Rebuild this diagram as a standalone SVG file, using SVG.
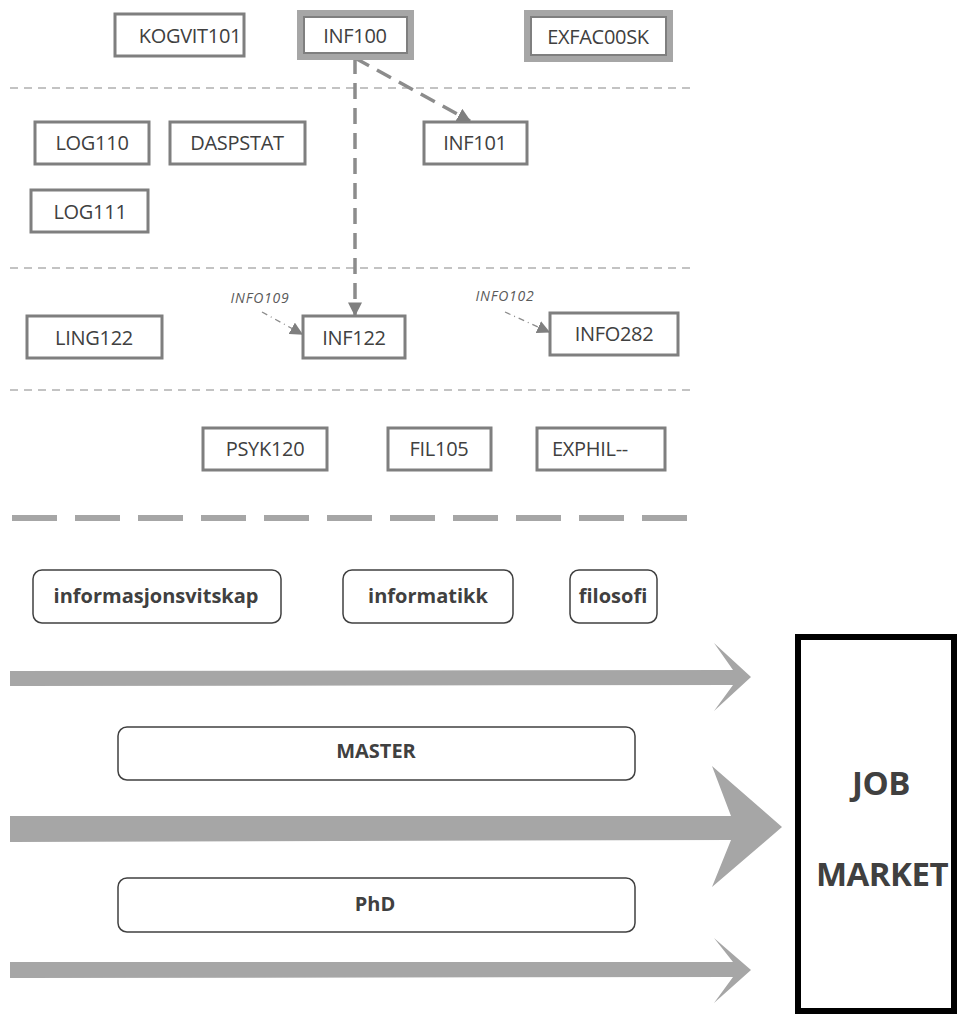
<svg xmlns="http://www.w3.org/2000/svg" width="961" height="1015" viewBox="0 0 961 1015">
<style>
.c rect{fill:#fff;stroke:#7f7f7f;stroke-width:3}
.c text,.d text{font-family:"Open Sans",sans-serif;font-size:20px;letter-spacing:-0.3px;fill:#404040;text-anchor:middle;dominant-baseline:central}
.dbl .o{fill:#fff;stroke:#a6a6a6;stroke-width:6}
.dbl .i{fill:#fff;stroke:#7f7f7f;stroke-width:2}
.sep{stroke:#b0b0b0;stroke-width:1.5;stroke-dasharray:8 6}
.d rect{fill:#fff;stroke:#404040;stroke-width:1.5}
.d text{font-weight:bold;font-size:20px;letter-spacing:0;fill:#404040}
.big{fill:#a6a6a6}
.lbl{font-family:"Open Sans",sans-serif;font-size:14px;letter-spacing:0.8px;font-style:italic;fill:#595959;text-anchor:middle}
.jm{font-family:"Open Sans",sans-serif;font-weight:bold;font-size:33px;letter-spacing:-0.5px;fill:#404040;text-anchor:middle;dominant-baseline:central}
</style>
<defs>
<marker id="ah" viewBox="0 0 10 10" refX="9" refY="5" markerWidth="4" markerHeight="4" orient="auto" markerUnits="strokeWidth"><path d="M0,0L10,5L0,10z" fill="#7f7f7f"/></marker>
<marker id="ahs" viewBox="0 0 10 10" refX="9" refY="5" markerWidth="10" markerHeight="10" orient="auto" markerUnits="strokeWidth"><path d="M0,0L10,5L0,10z" fill="#7f7f7f"/></marker>
</defs>
<rect width="961" height="1015" fill="#fff"/>
<g id="separators">
<line class="sep" x1="10" y1="88" x2="692" y2="88"/>
<line class="sep" x1="10" y1="268" x2="692" y2="268"/>
<line class="sep" x1="10" y1="390" x2="692" y2="390"/>
<line x1="12" y1="518" x2="695" y2="518" stroke="#a6a6a6" stroke-width="6" stroke-dasharray="45 18"/>
</g>
<g id="connectors" fill="none" stroke="#8c8c8c">
<line x1="355" y1="58" x2="470" y2="121" stroke-width="3.5" stroke-dasharray="16 9" marker-end="url(#ah)"/>
<line x1="355" y1="58" x2="355" y2="315" stroke-width="3.5" stroke-dasharray="16 9" marker-end="url(#ah)"/>
<line x1="262" y1="312" x2="302" y2="334" stroke-width="1.3" stroke-dasharray="6 4 1 4" marker-end="url(#ahs)"/>
<line x1="505" y1="312" x2="549" y2="332" stroke-width="1.3" stroke-dasharray="6 4 1 4" marker-end="url(#ahs)"/>
</g>
<g id="labels">
<text class="lbl" x="260" y="303">INFO109</text>
<text class="lbl" x="505" y="301">INFO102</text>
</g>
<g id="KOGVIT101" class="c"><rect x="115" y="14" width="129" height="42"/><text x="190" y="35">KOGVIT101</text></g>
<g id="INF100" class="c dbl"><rect class="o" x="300" y="13" width="111" height="44"/><rect class="i" x="304" y="17" width="103" height="36"/><text x="355" y="35">INF100</text></g>
<g id="EXFAC00SK" class="c dbl"><rect class="o" x="527" y="13" width="143" height="46"/><rect class="i" x="531" y="17" width="135" height="38"/><text x="598" y="36">EXFAC00SK</text></g>
<g id="LOG110" class="c"><rect x="35" y="122" width="114" height="42"/><text x="92" y="142">LOG110</text></g>
<g id="DASPSTAT" class="c"><rect x="170" y="122" width="135" height="42"/><text x="237" y="142">DASPSTAT</text></g>
<g id="INF101" class="c"><rect x="424" y="122" width="103" height="42"/><text x="475" y="142">INF101</text></g>
<g id="LOG111" class="c"><rect x="31" y="190" width="117" height="42"/><text x="90" y="211">LOG111</text></g>
<g id="LING122" class="c"><rect x="27" y="316" width="135" height="42"/><text x="94" y="337">LING122</text></g>
<g id="INF122" class="c"><rect x="303" y="316" width="102" height="42"/><text x="354" y="337">INF122</text></g>
<g id="INFO282" class="c"><rect x="550" y="313" width="128" height="42"/><text x="614" y="333">INFO282</text></g>
<g id="PSYK120" class="c"><rect x="203" y="428" width="124" height="42"/><text x="265" y="448">PSYK120</text></g>
<g id="FIL105" class="c"><rect x="388" y="428" width="103" height="42"/><text x="439" y="448">FIL105</text></g>
<g id="EXPHIL" class="c"><rect x="537" y="428" width="128" height="42"/><text x="590" y="448">EXPHIL--</text></g>
<g id="informasjonsvitskap" class="d"><rect x="33" y="570" width="248" height="53" rx="9"/><text x="156" y="595">informasjonsvitskap</text></g>
<g id="informatikk" class="d"><rect x="343" y="570" width="170" height="53" rx="9"/><text x="428" y="595">informatikk</text></g>
<g id="filosofi" class="d"><rect x="570" y="570" width="87" height="53" rx="9"/><text x="613" y="595">filosofi</text></g>
<g id="arrows">
<path class="big" d="M10,671 L733,670 L714,643 L751,677 L714,711 L733,685 L10,686 Z"/>
<path class="big" d="M10,816 L731,816 L712,766 L782,827 L712,887 L731,840 L10,842 Z"/>
<path class="big" d="M10,962 L733,962 L714,938 L751,970 L714,1003 L733,977 L10,978 Z"/>
</g>
<g id="MASTER" class="d"><rect x="118" y="727" width="517" height="53" rx="9"/><text x="376" y="750">MASTER</text></g>
<g id="PhD" class="d"><rect x="118" y="878" width="517" height="54" rx="9"/><text x="375" y="903">PhD</text></g>
<g id="JOBMARKET"><rect x="798" y="637" width="156" height="374" fill="#fff" stroke="#000" stroke-width="6"/>
<text class="jm" x="881" y="782">JOB</text>
<text class="jm" x="882" y="873">MARKET</text></g>
</svg>
